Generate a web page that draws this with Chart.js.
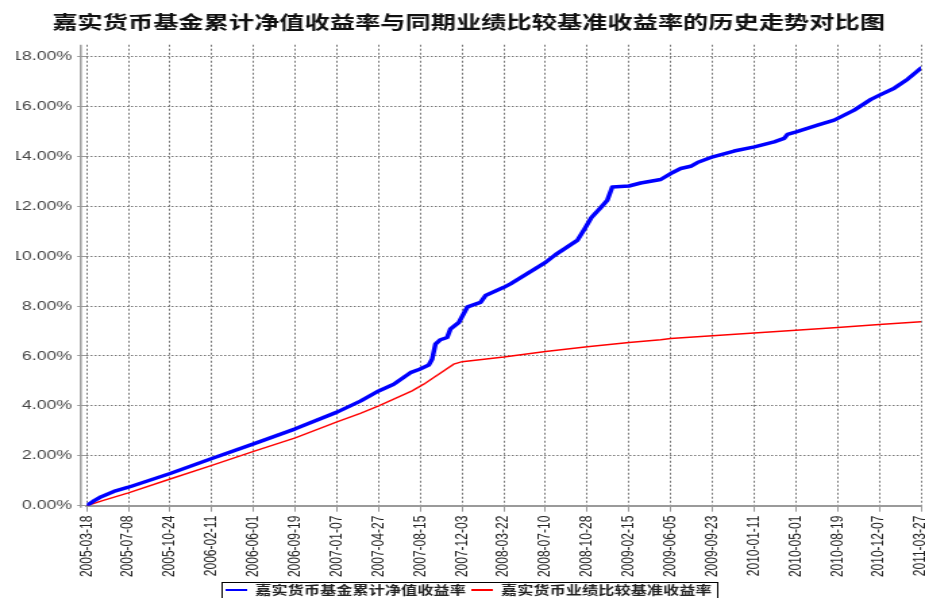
<!DOCTYPE html>
<html>
<head>
<meta charset="utf-8">
<script src="https://cdn.jsdelivr.net/npm/chart.js@4/dist/chart.umd.min.js"></script>
<style>
  html, body { margin: 0; padding: 0; background: #ffffff; overflow: hidden; }
  #wrap { position: absolute; left: 0; top: 0; width: 685px; height: 598px; transform: scaleX(1.35036); transform-origin: 0 0; }
</style>
</head>
<body>
<div id="wrap"><canvas id="c" width="685" height="598"></canvas></div>
<script>
// ---- data ----
const chartTitle = '嘉实货币基金累计净值收益率与同期业绩比较基准收益率的历史走势对比图';
const seriesNames = ['嘉实货币基金累计净值收益率', '嘉实货币业绩比较基准收益率'];
const dateLabels = ['2005-03-18','2005-07-08','2005-10-24','2006-02-11','2006-06-01','2006-09-19','2007-01-07','2007-04-27','2007-08-15','2007-12-03','2008-03-22','2008-07-10','2008-10-28','2009-02-15','2009-06-05','2009-09-23','2010-01-11','2010-05-01','2010-08-19','2010-12-07','2011-03-27'];
const yTickValues = [0, 2, 4, 6, 8, 10, 12, 14, 16, 18];

// x positions are expressed in date-label intervals (0 = 2005-03-18, 20 = 2011-03-27)
const fundX = [0, 0.15, 0.35, 0.65, 1, 2, 3, 4, 5, 6, 6.56, 7, 7.36, 7.76, 7.98, 8.20, 8.28, 8.36, 8.48, 8.64, 8.72, 8.92, 9.13, 9.44, 9.56, 10.0, 10.16, 11.0, 11.24, 11.76, 11.92, 12.1, 12.32, 12.48, 12.60, 13.0, 13.28, 13.76, 14.0, 14.24, 14.48, 14.64, 15.01, 15.52, 16.01, 16.48, 16.72, 16.80, 17.01, 17.52, 17.92, 18.4, 18.80, 19.02, 19.36, 19.68, 20.0];
const fundY = [0, 0.17, 0.36, 0.57, 0.74, 1.29, 1.89, 2.48, 3.08, 3.75, 4.19, 4.60, 4.87, 5.33, 5.47, 5.64, 5.87, 6.47, 6.65, 6.74, 7.08, 7.34, 7.97, 8.15, 8.42, 8.75, 8.89, 9.75, 10.06, 10.63, 11.05, 11.55, 11.94, 12.24, 12.77, 12.81, 12.93, 13.07, 13.31, 13.51, 13.60, 13.75, 13.98, 14.21, 14.38, 14.58, 14.72, 14.88, 14.98, 15.25, 15.45, 15.85, 16.28, 16.46, 16.73, 17.09, 17.53];

const benchX = [0, 0.4, 1, 2, 3, 4, 5, 6, 6.56, 7, 7.80, 8.08, 8.80, 9.0, 10, 11, 12, 13, 13.76, 14, 15, 16, 17, 18, 19, 20];
const benchY = [0, 0.21, 0.51, 1.07, 1.62, 2.18, 2.72, 3.36, 3.70, 4.00, 4.60, 4.87, 5.67, 5.77, 5.96, 6.18, 6.37, 6.54, 6.65, 6.70, 6.81, 6.92, 7.03, 7.14, 7.26, 7.37];

const fundPoints = fundX.map((x, i) => ({ x: x, y: fundY[i] }));
const benchPoints = benchX.map((x, i) => ({ x: x, y: benchY[i] }));

const axisLinePlugin = {
  id: 'axisLine',
  beforeDatasetsDraw(chart) {
    const { ctx, chartArea } = chart;
    ctx.save();
    ctx.strokeStyle = '#9a9a9a';
    ctx.lineWidth = 1.5;
    ctx.beginPath();
    ctx.moveTo(chartArea.left - 4.4, chartArea.top);
    ctx.lineTo(chartArea.left - 4.4, chartArea.bottom + 2);
    ctx.stroke();
    ctx.restore();
  }
};

const legendBoxPlugin = {
  id: 'legendBox',
  afterDraw(chart) {
    const lg = chart.legend;
    if (!lg || !lg.legendHitBoxes || !lg.legendHitBoxes.length) return;
    const hb = lg.legendHitBoxes;
    let l = Infinity, r = -Infinity, t = Infinity;
    hb.forEach(b => { l = Math.min(l, b.left); r = Math.max(r, b.left + b.width); t = Math.min(t, b.top); });
    const ctx = chart.ctx;
    ctx.save();
    ctx.strokeStyle = '#000';
    ctx.lineWidth = 1;
    ctx.strokeRect(Math.round(l - 3) + 0.5, Math.round(t - 2) + 0.5, Math.round(r - l + 7), 40);
    ctx.restore();
  }
};

new Chart(document.getElementById('c'), {
  type: 'line',
  data: {
    datasets: [
      { label: seriesNames[0], data: fundPoints, borderColor: '#0000ff', backgroundColor: '#0000ff', borderWidth: 3.5, pointRadius: 0, tension: 0, fill: false, borderJoinStyle: 'round', borderCapStyle: 'round' },
      { label: seriesNames[1], data: benchPoints, borderColor: '#ff0000', backgroundColor: '#ff0000', borderWidth: 1.4, pointRadius: 0, tension: 0, fill: false }
    ]
  },
  options: {
    responsive: false,
    animation: false,
    devicePixelRatio: 1,
    layout: { padding: { left: 12, right: 3, top: 0, bottom: -8 } },
    plugins: {
      title: {
        display: true,
        text: chartTitle,
        color: '#111',
        font: { family: '"Noto Sans CJK SC", sans-serif', size: 18.7, weight: 'bold' },
        padding: { top: 11, bottom: 11.3 }
      },
      legend: {
        display: true,
        position: 'bottom',
        labels: {
          color: '#222',
          font: { family: '"Noto Sans CJK SC", sans-serif', size: 12, weight: 'bold' },
          boxWidth: 16,
          boxHeight: 2,
          padding: 4,
          generateLabels(chart) {
            const items = Chart.defaults.plugins.legend.labels.generateLabels(chart);
            items.forEach(it => { it.fillStyle = it.strokeStyle; it.lineWidth = 0; });
            return items;
          }
        }
      },
      tooltip: { enabled: false }
    },
    scales: {
      x: {
        type: 'linear',
        min: 0,
        max: 20,
        afterBuildTicks(s) { s.ticks = dateLabels.map((_, i) => ({ value: i })); },
        afterFit(s) { s.height = 74.3; s.paddingLeft = 0; s.paddingRight = 0; },
        ticks: {
          autoSkip: false,
          maxRotation: 90,
          minRotation: 90,
          padding: 4,
          color: '#222',
          font: { family: '"Liberation Sans", Arial, sans-serif', size: 12 },
          callback: (v) => dateLabels[v]
        },
        grid: { color: '#777', lineWidth: 1, drawTicks: true, tickLength: 6, tickColor: '#999', tickWidth: 1 },
        border: { display: true, color: '#9a9a9a', width: 2, dash: [2, 2] }
      },
      y: {
        type: 'linear',
        min: 0,
        max: 18.47,
        afterBuildTicks(s) { s.ticks = yTickValues.map(v => ({ value: v })); },
        afterFit(s) { s.width = 52.2; },
        ticks: {
          padding: 4,
          color: '#444',
          font: { family: '"Liberation Sans", Arial, sans-serif', size: 13 },
          callback: (v) => Number(v).toFixed(2) + '%'
        },
        grid: { color: '#777', lineWidth: 1, drawTicks: true, tickLength: 7, tickColor: '#9a9a9a', tickWidth: 1 },
        border: { display: false, dash: [1.5, 1.5] }
      }
    }
  },
  plugins: [axisLinePlugin, legendBoxPlugin]
});
</script>
</body>
</html>
